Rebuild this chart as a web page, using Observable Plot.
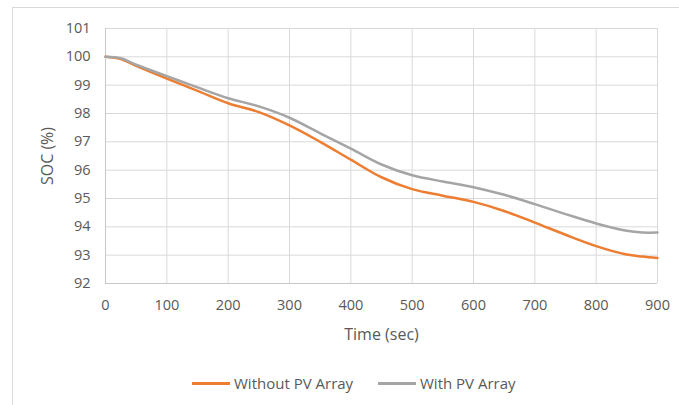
<!DOCTYPE html>
<html>
<head>
<meta charset="utf-8">
<script src="https://cdn.jsdelivr.net/npm/d3@7"></script>
<script src="https://cdn.jsdelivr.net/npm/@observablehq/plot@0.6"></script>
<style>
  html, body { margin: 0; padding: 0; background: #fff; overflow: hidden; width: 679px; height: 405px; }
  #frame { position: absolute; left: 12px; top: 7px; width: 700px; height: 420px; border: 1px solid #d9d9d9; box-sizing: border-box; }
  #chart { position: absolute; left: 0; top: 0; }
  #chart g[aria-label="x-axis label"], #chart g[aria-label="y-axis label"] { font-size: 16px; }
  #legend { position: absolute; top: 373px; left: 0; width: 679px; height: 20px; font-family: "Open Sans", sans-serif; font-size: 15px; color: #595959; }
  .item { position: absolute; top: 0; display: flex; align-items: center; height: 20px; white-space: nowrap; }
  .swatch { width: 38px; height: 3px; margin-right: 4px; }
</style>
</head>
<body>
<div id="frame"></div>
<div id="chart"></div>
<div id="legend"></div>
<script>
const time      = [0, 25, 50, 100, 150, 200, 250, 300, 350, 400, 450, 500, 550, 600, 650, 700, 750, 800, 850, 875, 900];
const withoutPV = [100, 99.92, 99.68, 99.23, 98.8, 98.36, 98.05, 97.58, 97.0, 96.37, 95.75, 95.33, 95.1, 94.88, 94.56, 94.15, 93.72, 93.32, 93.02, 92.95, 92.9];
const withPV    = [100, 99.95, 99.72, 99.32, 98.92, 98.54, 98.25, 97.85, 97.3, 96.76, 96.2, 95.82, 95.6, 95.4, 95.13, 94.8, 94.45, 94.12, 93.86, 93.8, 93.8];
const seriesNames = ["Without PV Array", "With PV Array"];
const seriesColors = ["#ED7D31", "#A5A5A5"];
const xTicks = [0, 100, 200, 300, 400, 500, 600, 700, 800, 900];
const yTicks = [92, 93, 94, 95, 96, 97, 98, 99, 100, 101];
const xLabel = "Time (sec)";
const yLabel = "SOC (%)";

const data = [];
seriesNames.forEach((s, k) => {
  const vals = k === 0 ? withoutPV : withPV;
  time.forEach((t, i) => data.push({t, v: vals[i], s}));
});

const chart = Plot.plot({
  width: 679,
  height: 345,
  marginLeft: 105,
  marginRight: 22,
  marginTop: 28,
  marginBottom: 62,
  style: {fontFamily: "'Open Sans', sans-serif", fontSize: "14.5px", color: "#595959", background: "transparent", overflow: "visible"},
  x: {domain: [0, 900]},
  y: {domain: [92, 101]},
  color: {domain: seriesNames, range: seriesColors},
  marks: [
    Plot.gridX(xTicks, {stroke: "#d9d9d9", strokeOpacity: 1, strokeWidth: 1}),
    Plot.gridY(yTicks, {stroke: "#d9d9d9", strokeOpacity: 1, strokeWidth: 1}),
    Plot.ruleX([0], {stroke: "#c8c8c8", strokeWidth: 1}),
    Plot.ruleY([92], {stroke: "#c8c8c8", strokeWidth: 1}),
    Plot.axisX({ticks: xTicks, tickSize: 0, tickPadding: 16, tickFormat: d => String(d), label: xLabel, labelAnchor: "center", labelArrow: "none", labelOffset: 56, fill: "#595959"}),
    Plot.axisY({ticks: yTicks, tickSize: 0, tickPadding: 15, tickFormat: d => String(d), label: yLabel, labelAnchor: "center", labelArrow: "none", labelOffset: 64, fill: "#595959"}),
    Plot.line(data, {x: "t", y: "v", stroke: "s", z: "s", strokeWidth: 2.5, curve: "catmull-rom"})
  ]
});
document.getElementById("chart").appendChild(chart);

const legend = document.getElementById("legend");
const lefts = [192, 378];
seriesNames.forEach((s, k) => {
  const item = document.createElement("div");
  item.className = "item";
  item.style.left = lefts[k] + "px";
  const sw = document.createElement("div");
  sw.className = "swatch";
  sw.style.background = seriesColors[k];
  const tx = document.createElement("span");
  tx.textContent = s;
  item.appendChild(sw);
  item.appendChild(tx);
  legend.appendChild(item);
});
</script>
</body>
</html>
